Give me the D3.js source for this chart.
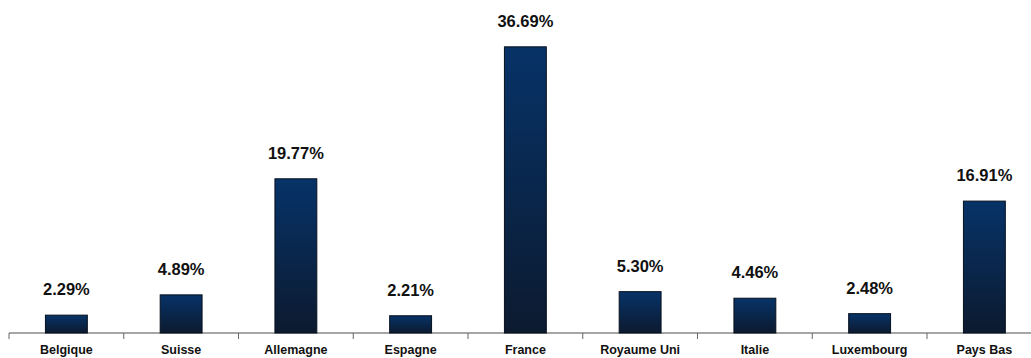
<!DOCTYPE html>
<html>
<head>
<meta charset="utf-8">
<script src="https://cdn.jsdelivr.net/npm/d3@7"></script>
<style>
  body { margin: 0; background: #fff; }
  svg { display: block; font-family: Arial, "Liberation Sans", sans-serif; }
</style>
</head>
<body>
<div id="chart"></div>
<script>
var width = 1031, height = 358;
var countries = ['Belgique', 'Suisse', 'Allemagne', 'Espagne', 'France', 'Royaume Uni', 'Italie', 'Luxembourg', 'Pays Bas'];
var shares = [2.29, 4.89, 19.77, 2.21, 36.69, 5.30, 4.46, 2.48, 16.91];

var data = countries.map(function(c, i) { return { name: c, value: shares[i] }; });

var svg = d3.select('#chart').append('svg').attr('width', width).attr('height', height);

var defs = svg.append('defs');
var grad = defs.append('linearGradient').attr('id', 'barGrad')
    .attr('x1', 0).attr('y1', 0).attr('x2', 0).attr('y2', 1);
grad.append('stop').attr('offset', '0%').attr('stop-color', '#073368');
grad.append('stop').attr('offset', '100%').attr('stop-color', '#0c1a2f');

var x = d3.scaleBand().domain(countries).range([9, 9 + 114.75 * 9]).paddingInner(0.635).paddingOuter(0.3175);
var y = d3.scaleLinear().domain([0, 40]).range([333, 21]);

// axis
var axis = svg.append('g').attr('transform', 'translate(0,333)')
    .call(d3.axisBottom(x).tickSize(0).tickFormat(''));
axis.select('.domain').remove();
axis.append('line').attr('x1', 9).attr('x2', width).attr('stroke', '#888').attr('stroke-width', 1.5);
var step = x.step();
svg.append('g').selectAll('line').data(d3.range(countries.length + 1)).enter().append('line')
    .attr('x1', function(i) { return 9 + i * step; })
    .attr('x2', function(i) { return 9 + i * step; })
    .attr('y1', 333).attr('y2', 339)
    .attr('stroke', '#666').attr('stroke-width', 1);

// bars
svg.append('g').selectAll('rect').data(data).enter().append('rect')
    .attr('x', function(d) { return x(d.name); })
    .attr('width', x.bandwidth())
    .attr('y', function(d) { return y(d.value); })
    .attr('height', function(d) { return y(0) - y(d.value); })
    .attr('fill', 'url(#barGrad)')
    .attr('stroke', '#07101d').attr('stroke-width', 1);

// value labels
svg.append('g').selectAll('text').data(data).enter().append('text')
    .attr('x', function(d) { return x(d.name) + x.bandwidth() / 2; })
    .attr('y', function(d) { return y(d.value) - 20; })
    .attr('text-anchor', 'middle')
    .style('font-weight', 'bold').style('font-size', '16.5px').style('fill', '#111')
    .text(function(d) { return d.value.toFixed(2) + '%'; });

// category labels
svg.append('g').selectAll('text').data(data).enter().append('text')
    .attr('x', function(d) { return x(d.name) + x.bandwidth() / 2; })
    .attr('y', 354)
    .attr('text-anchor', 'middle')
    .style('font-weight', 'bold').style('font-size', '12.5px').style('fill', '#111')
    .text(function(d) { return d.name; });
</script>
</body>
</html>
